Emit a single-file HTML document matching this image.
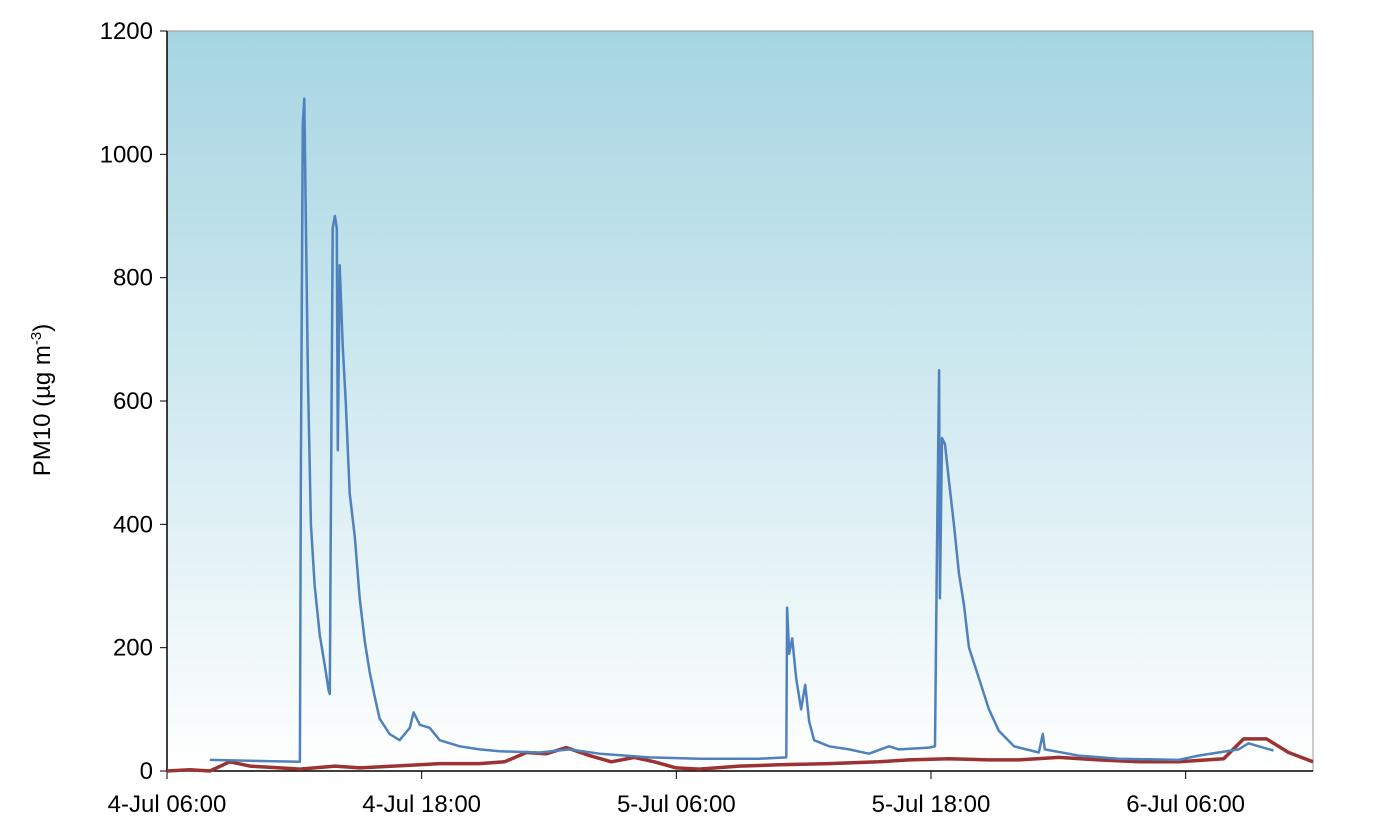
<!DOCTYPE html>
<html><head><meta charset="utf-8"><style>
body{margin:0;background:#fff;}
svg text{font-family:"Liberation Sans",sans-serif;fill:#000;}
</style></head><body>
<svg id="chart" width="1400" height="831">
<defs><linearGradient id="bg" x1="0" y1="0" x2="0" y2="1">
<stop offset="0" stop-color="#a6d5e2"/><stop offset="0.55" stop-color="#d6ecf2"/><stop offset="1" stop-color="#ffffff"/></linearGradient></defs>
<rect x="167" y="31" width="1146" height="740" fill="url(#bg)" stroke="#999" stroke-width="1"/>
<g id="axes"></g>
<g id="series"></g>
<text transform="translate(50,400) rotate(-90)" text-anchor="middle" font-size="24">PM10 (µg m<tspan dy="-9" font-size="15">-3</tspan><tspan dy="9">)</tspan></text>
</svg>
<script>
const yTicks=[0,200,400,600,800,1000,1200];
const xTickHours=[0,12,24,36,48];
const xTickLabels=["4-Jul 06:00","4-Jul 18:00","5-Jul 06:00","5-Jul 18:00","6-Jul 06:00"];
const pmHours=[2.02,6.26,6.31,6.40,6.47,6.54,6.64,6.78,6.96,7.20,7.44,7.62,7.67,7.72,7.81,7.91,8.00,8.05,8.14,8.28,8.42,8.61,8.85,9.08,9.32,9.55,9.79,10.02,10.49,10.96,11.44,11.62,11.91,12.38,12.85,13.79,14.73,15.67,17.55,18.96,20.38,22.73,25.08,27.91,29.18,29.22,29.32,29.46,29.65,29.88,30.07,30.26,30.49,31.20,32.14,33.08,34.02,34.49,35.91,36.19,36.28,36.38,36.42,36.52,36.66,36.85,37.08,37.32,37.55,37.79,38.26,38.73,39.20,39.91,41.08,41.27,41.36,42.96,44.85,47.67,48.61,50.49,50.96,52.14];
const pmValues=[18,15,500,1050,1090,900,640,400,300,220,170,130,125,400,880,900,880,520,820,690,600,450,380,280,210,160,120,85,60,50,70,95,75,70,50,40,35,32,30,35,28,22,20,20,22,265,190,215,150,100,140,80,50,40,35,28,40,35,38,40,350,650,280,540,530,470,400,320,270,200,150,100,65,40,30,60,35,25,20,18,25,35,45,33];
const refHours=[0,1.08,2.02,2.96,3.91,5.32,6.26,7.91,9.08,11.91,12.85,14.73,15.91,16.94,17.88,18.82,19.91,20.94,22.02,22.96,24,25.08,26.96,28.85,31.2,33.55,34.96,36.85,38.73,40.14,42.02,43.91,45.79,47.67,49.79,50.73,51.81,52.85,54];
const refValues=[0,2,0,15,8,5,3,8,5,10,12,12,15,30,28,38,25,15,22,15,5,3,8,10,12,15,18,20,18,18,22,18,15,15,20,52,52,30,15];
const X=h=>167+h*(1146/54), Y=v=>771-v*(740/1200);
const NS="http://www.w3.org/2000/svg";
const ax=document.getElementById('axes'), se=document.getElementById('series');
function mk(tag,attrs,parent){const e=document.createElementNS(NS,tag);for(const k in attrs)e.setAttribute(k,attrs[k]);parent.appendChild(e);return e;}
mk('line',{x1:167,y1:31,x2:167,y2:771,stroke:'#000','stroke-width':1.5},ax);
mk('line',{x1:167,y1:771,x2:1313,y2:771,stroke:'#000','stroke-width':1.5},ax);
yTicks.forEach(v=>{
 const t=mk('line',{x1:160,x2:167,y1:Y(v),y2:Y(v),stroke:'#000'},ax);
 
 
 const l=mk('text',{x:153,y:Y(v)+8,'text-anchor':'end','font-size':24},ax);l.textContent=v;
 
 
});
xTickHours.forEach((h,i)=>{
 const t=mk('line',{x1:X(h),x2:X(h),y1:771,y2:779,stroke:'#000'},ax);
 
 
 const l=mk('text',{x:X(h),y:812,'text-anchor':'middle','font-size':24},ax);l.textContent=xTickLabels[i];
 
 
});
const pts=(hs,vs)=>hs.map((h,i)=>X(h).toFixed(1)+','+Y(vs[i]).toFixed(1)).join(' ');
const r=mk('polyline',{points:pts(refHours,refValues),fill:'none',stroke:'#9b3333','stroke-width':3.5,'stroke-linejoin':'round'},se);


const p=mk('polyline',{points:pts(pmHours,pmValues),fill:'none',stroke:'#4f81bd','stroke-width':2.5,'stroke-linejoin':'round'},se);


</script>
</body></html>
